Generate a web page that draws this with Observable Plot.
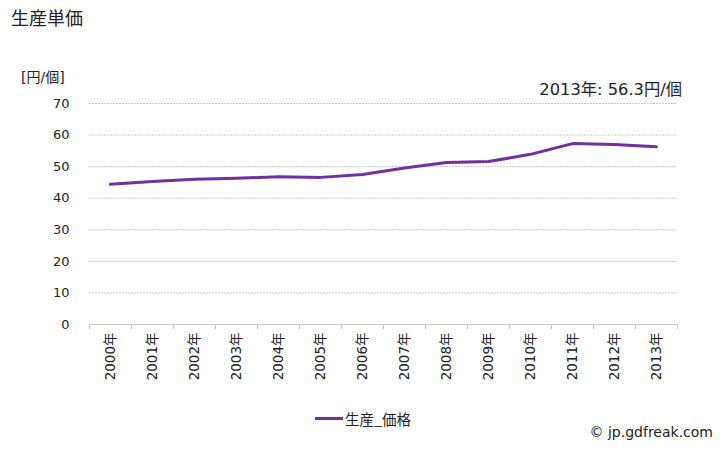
<!DOCTYPE html>
<html>
<head>
<meta charset="utf-8">
<script src="https://cdn.jsdelivr.net/npm/d3@7"></script>
<script src="https://cdn.jsdelivr.net/npm/@observablehq/plot@0.6"></script>
<style>
  html, body { margin: 0; padding: 0; background: #fff; }
  #wrap { position: relative; width: 728px; height: 450px; overflow: hidden; font-family: "DejaVu Sans", "Noto Sans CJK JP", sans-serif; color: #222; }
  .abs { position: absolute; white-space: nowrap; }
  #chart svg text { font-family: "DejaVu Sans", "Noto Sans CJK JP", sans-serif; }
</style>
</head>
<body>
<div id="wrap">
  <div class="abs" id="title" style="left:11px; top:4px; font-size:18px; font-family:'Noto Sans CJK JP', sans-serif;">生産単価</div>
  <div class="abs" id="unit" style="left:21px; top:66px; font-size:14px;">[円/個]</div>
  <div class="abs" id="note" style="right:46px; top:76px; font-size:16.3px;">2013年: 56.3円/個</div>
  <div class="abs" id="legend" style="left:315px; top:408px; font-size:14.5px; display:flex; align-items:center; font-family:'Noto Sans CJK JP', sans-serif;">
    <span style="display:inline-block; width:28px; height:3px; background:#7030A0; margin-right:2px;"></span><span>生産_価格</span>
  </div>
  <div class="abs" id="copy" style="right:15px; top:424px; font-size:14px;">© jp.gdfreak.com</div>
  <div id="chart"></div>
</div>
<script>
const years = [2000, 2001, 2002, 2003, 2004, 2005, 2006, 2007, 2008, 2009, 2010, 2011, 2012, 2013];
const prices = [44.4, 45.3, 46.0, 46.3, 46.8, 46.6, 47.5, 49.6, 51.3, 51.6, 53.9, 57.3, 57.0, 56.3];
const yTicks = [0, 10, 20, 30, 40, 50, 60, 70];
const yearLabels = years.map(y => y + "年");

const data = years.map((y, i) => ({year: y, price: prices[i], label: yearLabels[i]}));
const boundaries = d3.range(years.length + 1).map(i => years[0] - 0.5 + i);

const chart = Plot.plot({
  width: 728,
  height: 450,
  marginLeft: 89,
  marginRight: 51,
  marginTop: 103,
  marginBottom: 126,
  style: {fontFamily: "'DejaVu Sans', 'Noto Sans CJK JP', sans-serif", fontSize: "13px", color: "#222", background: "transparent"},
  x: {type: "linear", domain: [years[0] - 0.5, years[years.length - 1] + 0.5], ticks: boundaries, tickFormat: () => "", tickSize: 5, label: null, line: false},
  y: {domain: [0, 70], ticks: yTicks, tickSize: 0, tickPadding: 20, label: null},
  marks: [
    Plot.ruleY(yTicks.filter(d => d > 0), {stroke: "#c8c8c8", strokeDasharray: "2,1"}),
    Plot.ruleY([0], {stroke: "#c8c8c8"}),
    Plot.line(data, {x: "year", y: "price", stroke: "#7030A0", strokeWidth: 3, strokeLinejoin: "round"}),
    Plot.text(data, {x: "year", y: () => 0, text: "label", rotate: -90, textAnchor: "end", lineAnchor: "middle", dy: 8, fontSize: 14, fill: "#222"})
  ]
});
d3.select(chart).selectAll("text")
  .filter(function() { const a = this.closest("[aria-label]"); return a && /^y-axis/.test(a.getAttribute("aria-label")); })
  .attr("font-size", 13).style("font-size", "13px");
d3.select(chart).selectAll("[aria-label^='y-axis']").attr("font-size", 13).style("font-size", "13px");
d3.select(chart).selectAll("[aria-label^='x-axis'] path, [aria-label^='x-axis'] line").attr("stroke", "#c8c8c8");
chart.querySelectorAll('g[aria-label="text"] text').forEach(t => t.style.fontSize = "13.5px");
document.getElementById("chart").appendChild(chart);
</script>
</body>
</html>
